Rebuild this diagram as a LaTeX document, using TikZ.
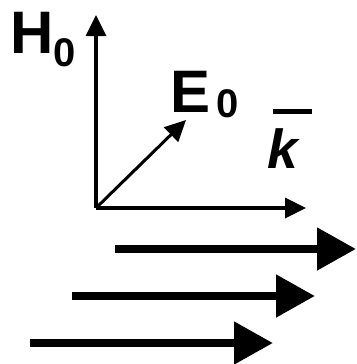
\documentclass[tikz,border=0pt]{standalone}
\usepackage{fontspec}
\setmainfont{Liberation Sans}
\usetikzlibrary{arrows.meta, positioning, calc}

\newcommand{\bigfont}{\bfseries\fontsize{60}{60}\selectfont}
\newcommand{\subfont}{\bfseries\fontsize{40}{40}\selectfont}

\begin{document}
\begin{tikzpicture}[x=1pt, y=-1pt,
    axis/.style={line width=3.5pt, -{Triangle[length=21pt, width=20pt]}},
    flow/.style={line width=8pt, -{Triangle[length=39pt, width=41pt]}},
    lbl/.style={inner sep=0pt, anchor=base west}]
    \useasboundingbox (0,0) rectangle (356,364);

    % Origin and axis ends
    \coordinate (O) at (96,208);
    \coordinate (H) at (96,15);
    \coordinate (K) at (306,208);
    \coordinate (E) at (186,120);

    % Axes
    \draw[axis] (O) -- (H);
    \draw[axis] (O) -- (K);
    \draw[axis, line width=3pt] (O) -- (E);

    % Labels
    \node[lbl] (Hlab) at (10,53) {\bigfont H};
    \node[lbl] (Hsub) at (53,66) {\subfont 0};
    \node[lbl] (Elab) at (170,112) {\bigfont E};
    \node[lbl] (Esub) at (216,117) {\subfont 0};
    \node[lbl] (klab) at (267,168) {\bfseries\itshape\fontsize{55}{55}\selectfont k};
    \draw[line width=5pt] (273,111) -- (312,111);

    % Propagation arrows
    \coordinate (A1) at (115,249);
    \coordinate (B1) at (356,249);
    \coordinate (A2) at (72,296);
    \coordinate (B2) at (315,296);
    \coordinate (A3) at (30,343);
    \coordinate (B3) at (273,343);

    \draw[flow] (A1) -- (B1);
    \draw[flow] (A2) -- (B2);
    \draw[flow] (A3) -- (B3);
\end{tikzpicture}
\end{document}
